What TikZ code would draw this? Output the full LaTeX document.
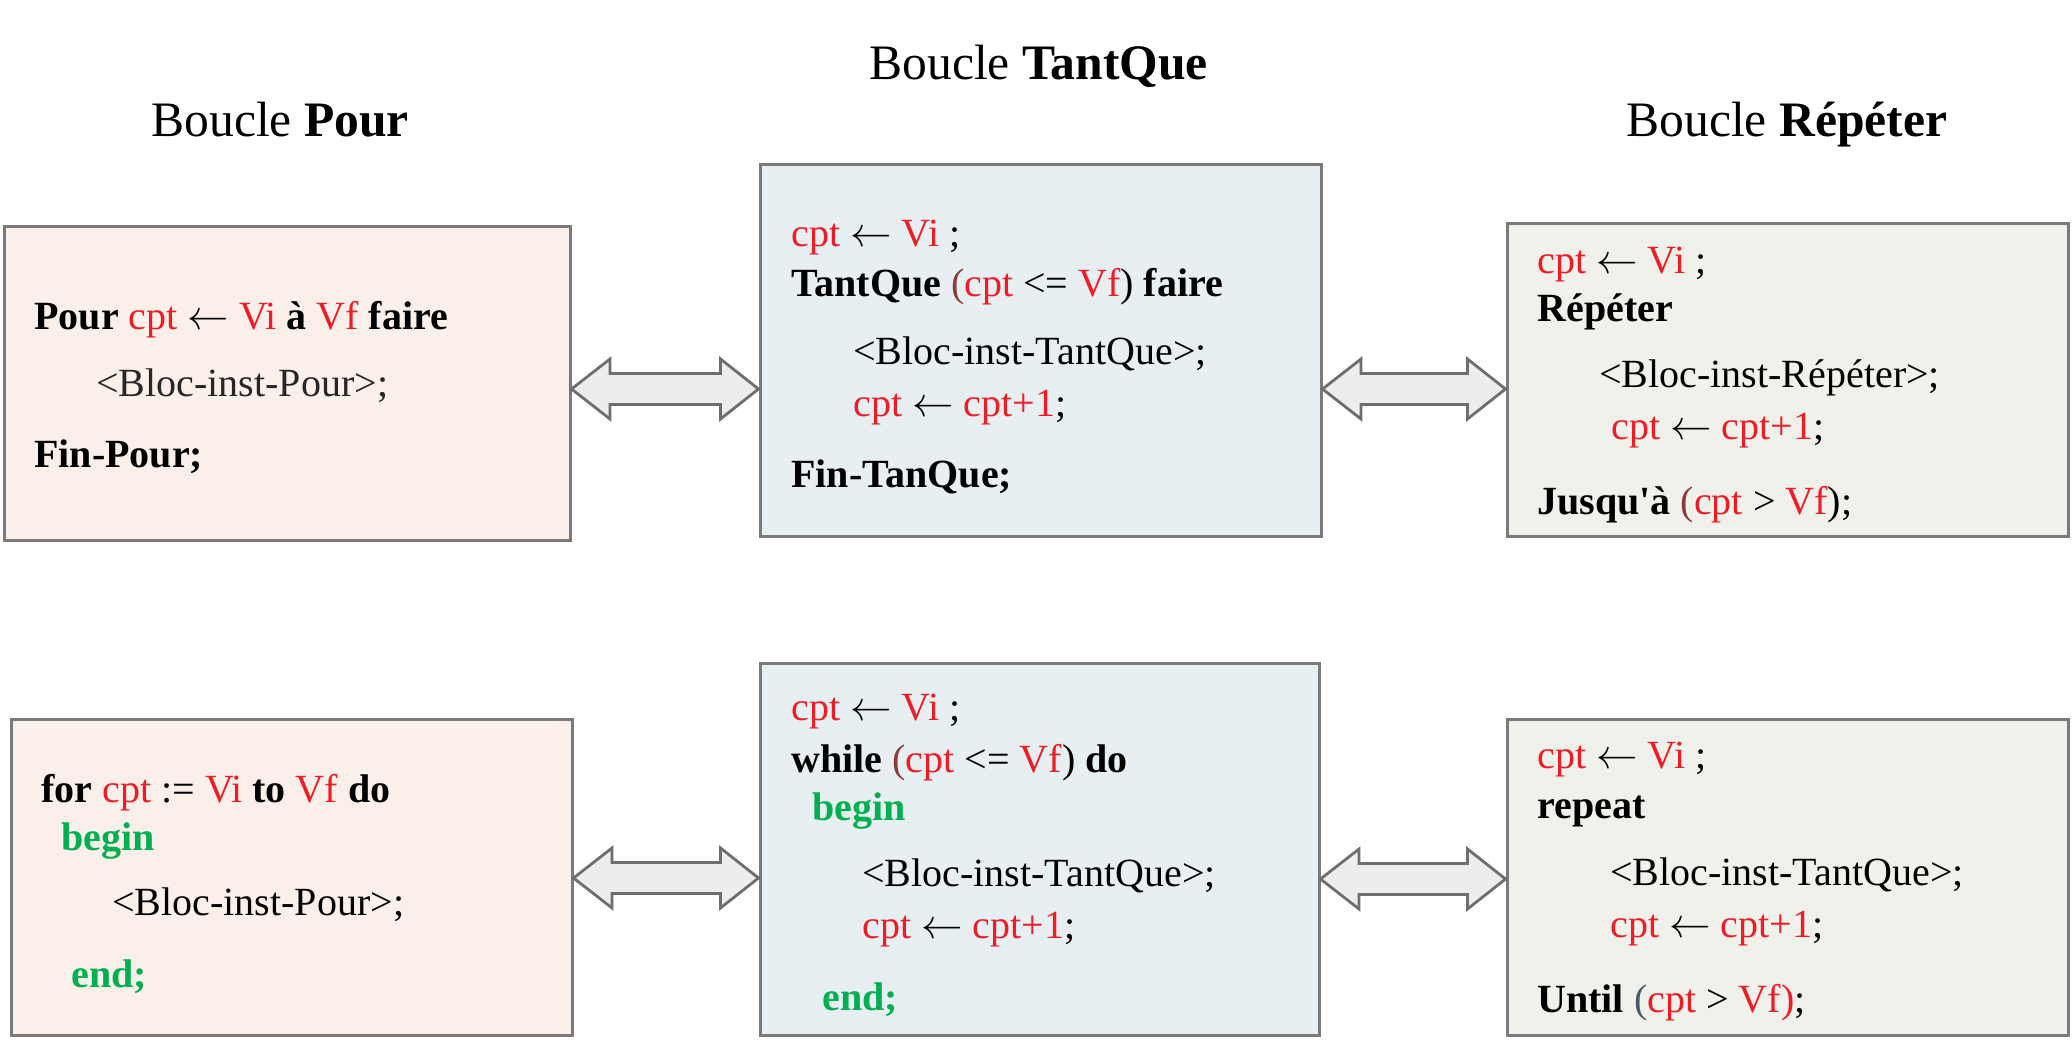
\documentclass[tikz,border=0pt]{standalone}
\usepackage{fontspec}
\newfontfamily\tnr{Liberation Serif}
\usetikzlibrary{calc}
\definecolor{cred}{HTML}{EE1C25}
\definecolor{cgrn}{HTML}{00B050}
\definecolor{cbrn}{HTML}{8B3A3A}
\definecolor{cslt}{HTML}{4A5A6A}
\definecolor{fpour}{HTML}{FBEFEA}
\definecolor{ftq}{HTML}{E8EFF2}
\definecolor{frep}{HTML}{EFF1EA}
\definecolor{bord}{HTML}{7A7A7A}
\newcommand\redt[1]{\textcolor{cred}{#1}}
\newcommand\grnt[1]{\textcolor{cgrn}{#1}}
\newcommand\larr{\ensuremath{\leftarrow}}
\newcommand\dbarrow[2]{%
  \draw[dblarr] let \p1=(#1), \p2=(#2) in
    (\x1,\y1) -- (\x1+19.25pt,\y1+15pt) -- (\x1+19.25pt,\y1+7.75pt)
    -- (\x2-19pt,\y1+7.75pt) -- (\x2-19pt,\y1+15pt) -- (\x2,\y1)
    -- (\x2-19pt,\y1-15pt) -- (\x2-19pt,\y1-7.75pt)
    -- (\x1+19.25pt,\y1-7.75pt) -- (\x1+19.25pt,\y1-15pt) -- cycle;}
\begin{document}
\begin{tikzpicture}[x=0.5pt,y=-0.5pt,
  box/.style={draw=bord,line width=1.5pt,inner sep=0pt,rectangle},
  dblarr/.style={draw=bord!90!black,line width=1.4pt,fill=black!7,line join=miter},
  txt/.style={anchor=base west,inner sep=0pt,font=\tnr\fontsize{20pt}{24pt}\selectfont},
  ttl/.style={anchor=base west,inner sep=0pt,font=\tnr\fontsize{24.8pt}{30pt}\selectfont}]
\useasboundingbox (0,0) rectangle (2072,1040);
% boxes
\node[box,fill=fpour,minimum width=283pt,minimum height=157pt] (B1) at (287,383) {};
\node[box,fill=ftq,minimum width=280.5pt,minimum height=186pt] (B2) at (1040.5,350) {};
\node[box,fill=frep,minimum width=280.5pt,minimum height=156.5pt] (B3) at (1787.5,379.5) {};
\node[box,fill=fpour,minimum width=280.5pt,minimum height=158pt] (B4) at (291.5,877) {};
\node[box,fill=ftq,minimum width=279.5pt,minimum height=186pt] (B5) at (1039.5,849) {};
\node[box,fill=frep,minimum width=280.5pt,minimum height=158pt] (B6) at (1787.5,877) {};
% titles
\node[ttl] (t1) at (151,136) {Boucle \textbf{Pour}};
\node[ttl] (t2) at (869,79) {Boucle \textbf{TantQue}};
\node[ttl] (t3) at (1626,136) {Boucle \textbf{Répéter}};
% arrows
\coordinate (a1l) at (B1.east |- 0,389);
\coordinate (a1r) at (B2.west |- 0,389);
\coordinate (a2l) at (B2.east |- 0,389);
\coordinate (a2r) at (B3.west |- 0,389);
\coordinate (a3l) at (B4.east |- 0,878);
\coordinate (a3r) at (B5.west |- 0,878);
\coordinate (a4l) at (B5.east |- 0,879);
\coordinate (a4r) at (B6.west |- 0,879);
\dbarrow{a1l}{a1r}
\dbarrow{a2l}{a2r}
\dbarrow{a3l}{a3r}
\dbarrow{a4l}{a4r}
% Pour top
\node[txt] (p1) at (34,329) {\textbf{Pour} \redt{cpt} \larr{} \redt{Vi} \textbf{à} \redt{Vf} \textbf{faire}};
\node[txt] (p2) at (96,396) {\textcolor{black!85}{<Bloc-inst-Pour>;}};
\node[txt] (p3) at (34,467) {\textbf{Fin-Pour;}};
% TantQue top
\node[txt] (q1) at (791,246) {\redt{cpt} \larr{} \redt{Vi} ;};
\node[txt] (q2) at (791,296) {\textbf{TantQue} \textcolor{cbrn}{(}\redt{cpt} <= \redt{Vf}) \textbf{faire}};
\node[txt] (q3) at (853,364) {<Bloc-inst-TantQue>;};
\node[txt] (q4) at (853,416) {\redt{cpt} \larr{} \redt{cpt+1};};
\node[txt] (q5) at (791,487) {\textbf{Fin-TanQue;}};
% Repeter top
\node[txt] (r1) at (1537,273) {\redt{cpt} \larr{} \redt{Vi} ;};
\node[txt] (r2) at (1537,321) {\textbf{Répéter}};
\node[txt] (r3) at (1599,387) {<Bloc-inst-Répéter>;};
\node[txt] (r4) at (1611,439) {\redt{cpt} \larr{} \redt{cpt+1};};
\node[txt] (r5) at (1537,514) {\textbf{Jusqu'à} \textcolor{cbrn}{(}\redt{cpt} > \redt{Vf});};
% Pour bottom
\node[txt] (s1) at (41,802) {\textbf{for} \redt{cpt} := \redt{Vi} \textbf{to} \redt{Vf} \textbf{do}};
\node[txt] (s2) at (61,850) {\grnt{\textbf{begin}}};
\node[txt] (s3) at (112,915) {<Bloc-inst-Pour>;};
\node[txt] (s4) at (71,987) {\grnt{\textbf{end;}}};
% TantQue bottom
\node[txt] (w1) at (791,720) {\redt{cpt} \larr{} \redt{Vi} ;};
\node[txt] (w2) at (791,772) {\textbf{while} \textcolor{cbrn}{(}\redt{cpt} <= \redt{Vf}) \textbf{do}};
\node[txt] (w3) at (812,820) {\grnt{\textbf{begin}}};
\node[txt] (w4) at (862,886) {<Bloc-inst-TantQue>;};
\node[txt] (w5) at (862,938) {\redt{cpt} \larr{} \redt{cpt+1};};
\node[txt] (w6) at (822,1010) {\grnt{\textbf{end;}}};
% Repeter bottom
\node[txt] (u1) at (1537,768) {\redt{cpt} \larr{} \redt{Vi} ;};
\node[txt] (u2) at (1537,818) {\textbf{repeat}};
\node[txt] (u3) at (1610,885) {<Bloc-inst-TantQue>;};
\node[txt] (u4) at (1610,937) {\redt{cpt} \larr{} \redt{cpt+1};};
\node[txt] (u5) at (1537,1012) {\textbf{Until} \textcolor{cslt}{(}\redt{cpt} > \redt{Vf)};};
\end{tikzpicture}
\end{document}
